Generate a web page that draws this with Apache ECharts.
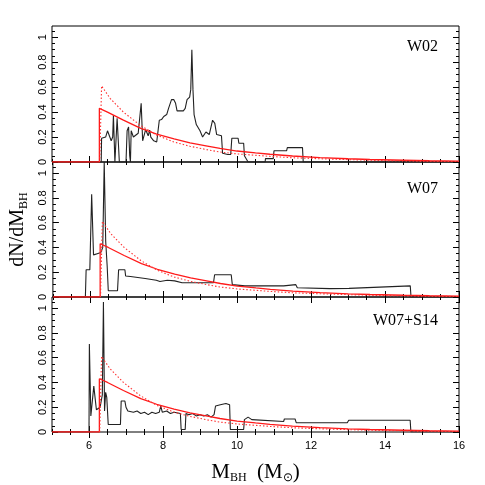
<!DOCTYPE html>
<html>
<head>
<meta charset="utf-8">
<script src="https://cdn.jsdelivr.net/npm/echarts@6/dist/echarts.min.js"></script>
<style>
  html, body { margin: 0; padding: 0; background: #fff; }
  #main { width: 485px; height: 485px; }
</style>
</head>
<body>
<div id="main"></div>
<script>
// panel names
var panelNames = ['W02', 'W07', 'W07+S14'];

// black histograms [M_BH, dN/dM_BH]
var w02 = [
  [5, 0], [6.33, 0], [6.34, 0.19], [6.45, 0.2], [6.5, 0.25], [6.55, 0.25], [6.6, 0.17], [6.64, 0.2],
  [6.66, 0.375], [6.7, 0], [6.73, 0], [6.76, 0.35], [6.82, 0], [7.0, 0], [7.03, 0.25], [7.07, 0.28],
  [7.1, 0.05], [7.12, 0], [7.14, 0.25], [7.2, 0.2], [7.25, 0.21], [7.33, 0.23], [7.38, 0.23],
  [7.41, 0.47], [7.45, 0.17], [7.5, 0.18], [7.53, 0.26], [7.6, 0.21], [7.64, 0.255], [7.67, 0.2],
  [7.75, 0.17], [7.83, 0.16], [7.87, 0.17], [7.9, 0.335], [7.96, 0.34], [8.02, 0.365], [8.1, 0.38],
  [8.15, 0.43], [8.23, 0.5], [8.29, 0.5], [8.34, 0.47], [8.38, 0.41], [8.45, 0.41], [8.55, 0.41],
  [8.6, 0.43], [8.65, 0.5], [8.72, 0.52], [8.75, 0.58], [8.78, 0.9], [8.81, 0.58], [8.84, 0.38],
  [8.9, 0.3], [8.95, 0.29], [9.0, 0.25], [9.07, 0.2], [9.16, 0.24], [9.25, 0.22], [9.3, 0.22],
  [9.34, 0.335], [9.4, 0.31], [9.45, 0.22], [9.58, 0.21], [9.61, 0.07], [9.75, 0.06], [9.83, 0.06],
  [9.86, 0.19], [10.03, 0.19], [10.05, 0.15], [10.18, 0.15], [10.2, 0.05], [10.3, 0], [10.76, 0],
  [10.77, 0.027], [10.98, 0.027], [11.0, 0.09], [11.34, 0.09], [11.36, 0.115], [11.77, 0.115],
  [11.79, 0], [16, 0]
];
var w07 = [
  [5, 0], [5.88, 0], [5.9, 0.22], [6.0, 0.22], [6.05, 0.83], [6.1, 0.34], [6.2, 0.35], [6.3, 0.36],
  [6.35, 0.4], [6.39, 1.09], [6.43, 0.45], [6.47, 0.25], [6.5, 0.05], [6.75, 0.05], [6.78, 0.22],
  [6.95, 0.22], [6.97, 0.17], [7.1, 0.165], [7.5, 0.15], [7.8, 0.135], [7.9, 0.125], [8.1, 0.135],
  [8.3, 0.13], [8.5, 0.115], [9.0, 0.115], [9.35, 0.115], [9.38, 0.18], [9.83, 0.18], [9.86, 0.1],
  [10.2, 0.09], [11.25, 0.09], [11.3, 0.1], [11.58, 0.1], [11.62, 0.075], [12.5, 0.068],
  [13.02, 0.07], [13.05, 0.085], [14.68, 0.09], [14.7, 0], [16, 0]
];
var w07s14 = [
  [5, 0], [6.0, 0], [6.01, 0.71], [6.05, 0.13], [6.1, 0.13], [6.13, 0.37], [6.17, 0.37], [6.2, 0.18],
  [6.25, 0.18], [6.3, 0.2], [6.36, 0.3], [6.39, 1.05], [6.42, 0.17], [6.45, 0.32], [6.48, 0.28],
  [6.52, 0.06], [6.85, 0.06], [6.87, 0.25], [6.97, 0.25], [7.0, 0.2], [7.05, 0.17], [7.1, 0.18],
  [7.2, 0.16], [7.3, 0.17], [7.4, 0.15], [7.5, 0.16], [7.6, 0.14], [7.7, 0.16], [7.8, 0.15],
  [7.9, 0.16], [7.94, 0.21], [7.98, 0.16], [8.1, 0.17], [8.2, 0.15], [8.3, 0.16], [8.47, 0.15],
  [8.49, 0.02], [8.6, 0.02], [8.62, 0.15], [8.7, 0.14], [8.8, 0.15], [8.9, 0.13], [9.0, 0.14],
  [9.1, 0.13], [9.2, 0.14], [9.3, 0.12], [9.38, 0.14], [9.42, 0.21], [9.55, 0.22], [9.7, 0.23],
  [9.8, 0.22], [9.82, 0.02], [10.18, 0.02], [10.2, 0.1], [10.3, 0.12], [10.4, 0.1], [10.45, 0.085],
  [11.26, 0.085], [11.28, 0.105], [11.57, 0.105], [11.6, 0.075], [12.98, 0.075], [13.02, 0.095],
  [14.68, 0.095], [14.7, 0], [16, 0]
];
var histograms = [w02, w07, w07s14];

// red model curves (same in every panel)
var fitSolid = [
  [5, 0], [6.28, 0], [6.28, 0.43], [6.5, 0.40], [6.93, 0.335], [7.4, 0.27], [7.83, 0.224],
  [8.3, 0.185], [8.73, 0.154], [9.2, 0.128], [9.54, 0.109], [10, 0.088], [10.5, 0.073],
  [10.89, 0.062], [11.5, 0.048], [12.24, 0.035], [13, 0.026], [13.59, 0.02], [14.5, 0.014],
  [15.2, 0.01], [16, 0.007]
];
var fitDotted = [
  [6.29, 0], [6.34, 0.61], [6.57, 0.51], [6.93, 0.40], [7.38, 0.295], [7.83, 0.215], [8.3, 0.16],
  [8.73, 0.126], [9.2, 0.098], [9.54, 0.08], [10, 0.065], [10.89, 0.045], [11.5, 0.034],
  [12.24, 0.026], [13, 0.019], [13.59, 0.014], [14.5, 0.009], [15.2, 0.006], [16, 0.004]
];

// ticks
var xMajor = [6, 8, 10, 12, 14, 16];
var yMajor = [0, 0.2, 0.4, 0.6, 0.8, 1];
var xMinor = [];
for (var v = 5; v <= 16.001; v += 0.5) xMinor.push(+v.toFixed(1));
var yMinor = [];
for (var w = 0; w <= 1.0501; w += 0.05) yMinor.push(+w.toFixed(2));

var grids = [
  {left: 52, right: 26, top: 26, height: 136},
  {left: 52, right: 26, top: 162, height: 135},
  {left: 52, right: 26, top: 297, height: 136}
];
var labelTops = [39, 181, 313];

var sans = 'Liberation Sans';
var serif = 'Liberation Serif';

var xAxes = [], yAxes = [], series = [], titles = [];

grids.forEach(function (g, i) {
  g.show = true;
  g.borderColor = '#000';
  g.borderWidth = 1;
  g.backgroundColor = 'transparent';

  ['bottom', 'top'].forEach(function (pos) {
    [true, false].forEach(function (major) {
      var ax = {
        gridIndex: i, type: 'value', position: pos, min: 5, max: 16,
        axisLine: {show: false},
        splitLine: {show: false},
        axisTick: {show: true, inside: true, length: major ? 6 : 3,
          customValues: major ? xMajor : xMinor, lineStyle: {color: '#000', width: 1}},
        axisLabel: {show: false}
      };
      if (major && pos === 'bottom' && i === 2) {
        ax.axisLabel = {show: true, customValues: xMajor, margin: 8,
          fontFamily: sans, fontSize: 11, color: '#000'};
        ax.name = '{m|M}{s|BH}{m|  (M}{s|⊙}{m|)}';
        ax.nameLocation = 'middle';
        ax.nameGap = 28;
        ax.nameTextStyle = {
          rich: {
            m: {fontFamily: serif, fontSize: 21, color: '#000', lineHeight: 24},
            s: {fontFamily: serif, fontSize: 12, color: '#000', lineHeight: 8, verticalAlign: 'bottom'}
          }
        };
      }
      xAxes.push(ax);
    });
  });

  ['left', 'right'].forEach(function (pos) {
    [true, false].forEach(function (major) {
      var ax = {
        gridIndex: i, type: 'value', position: pos, min: 0, max: 1.09,
        axisLine: {show: false},
        splitLine: {show: false},
        axisTick: {show: true, inside: true, length: major ? 6 : 3,
          customValues: major ? yMajor : yMinor, lineStyle: {color: '#000', width: 1}},
        axisLabel: {show: false}
      };
      if (major && pos === 'left') {
        ax.axisLabel = {show: true, customValues: yMajor, rotate: 90, margin: 4,
          fontFamily: sans, fontSize: 11, color: '#000'};
        if (i === 1) {
          ax.name = '{m|dN/dM}{s|BH}';
          ax.nameLocation = 'middle';
          ax.nameRotate = 90;
          ax.nameGap = 22;
          ax.nameTextStyle = {
            rich: {
              m: {fontFamily: serif, fontSize: 20, color: '#000', lineHeight: 24},
              s: {fontFamily: serif, fontSize: 12, color: '#000', lineHeight: 8, verticalAlign: 'bottom'}
            }
          };
        }
      }
      yAxes.push(ax);
    });
  });

  var xi = i * 4, yi = i * 4;
  series.push({
    type: 'line', xAxisIndex: xi, yAxisIndex: yi, data: histograms[i],
    showSymbol: false, symbol: 'none', animation: false,
    lineStyle: {color: '#222', width: 1.1}, z: 2
  });
  series.push({
    type: 'line', xAxisIndex: xi, yAxisIndex: yi, data: fitSolid,
    showSymbol: false, symbol: 'none', animation: false,
    lineStyle: {color: '#ff1a1a', width: 1.3}, z: 3
  });
  series.push({
    type: 'line', xAxisIndex: xi, yAxisIndex: yi, data: fitDotted,
    showSymbol: false, symbol: 'none', animation: false,
    lineStyle: {color: '#ff3333', width: 1.1, type: [1.5, 2]}, z: 3
  });

  titles.push({
    text: panelNames[i], right: 47, top: labelTops[i], padding: 0,
    textStyle: {fontFamily: serif, fontSize: 16, fontWeight: 'normal', color: '#000'}
  });
});

var chart = echarts.init(document.getElementById('main'), null, {renderer: 'canvas'});
chart.setOption({
  animation: false,
  backgroundColor: '#fff',
  title: titles,
  grid: grids,
  xAxis: xAxes,
  yAxis: yAxes,
  series: series
});
</script>
</body>
</html>
